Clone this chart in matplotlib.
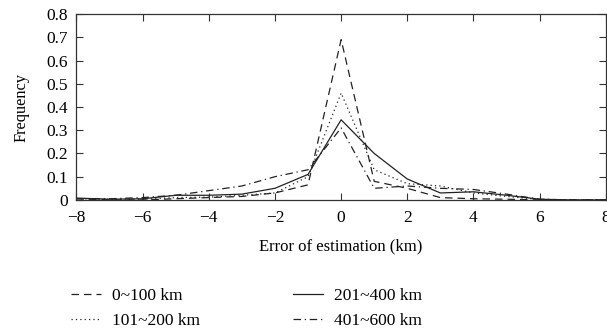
import matplotlib
matplotlib.use("Agg")
import matplotlib.pyplot as plt
import numpy as np

plt.rcParams['font.family'] = ['Liberation Serif', 'DejaVu Serif']
plt.rcParams['mathtext.fontset'] = 'stix'

x = list(range(-8, 9))
s_0_100 = [0.005, 0.0, 0.0, 0.005, 0.01, 0.015, 0.03, 0.065, 0.69, 0.08, 0.05, 0.01, 0.005, 0.003, 0.0, 0.0, 0.0]
s_101_200 = [0.005, 0.002, 0.003, 0.01, 0.012, 0.02, 0.03, 0.10, 0.46, 0.13, 0.07, 0.06, 0.03, 0.015, 0.002, 0.0, 0.0]
s_201_400 = [0.008, 0.003, 0.005, 0.02, 0.02, 0.025, 0.05, 0.11, 0.345, 0.20, 0.09, 0.03, 0.035, 0.02, 0.003, 0.0, 0.0]
s_401_600 = [0.005, 0.005, 0.01, 0.02, 0.04, 0.06, 0.10, 0.13, 0.31, 0.05, 0.06, 0.05, 0.045, 0.025, 0.003, 0.0, 0.0]
labels = ["0~100 km", "101~200 km", "201~400 km", "401~600 km"]
x_ticks = list(range(-8, 9, 2))
y_ticks = [0, 0.1, 0.2, 0.3, 0.4, 0.5, 0.6, 0.7, 0.8]
y_tick_labels = ["0", "0.1", "0.2", "0.3", "0.4", "0.5", "0.6", "0.7", "0.8"]

fig = plt.figure(figsize=(6.07, 3.36), dpi=100)
ax = fig.add_axes([0.126, 0.405, 0.872, 0.553])

lw = 0.9
c = '#222222'
ax.plot(x, s_0_100, linestyle=(0, (6, 4)), color=c, lw=lw, label=labels[0])
ax.plot(x, s_101_200, linestyle=(0, (1, 2.5)), color=c, lw=lw, label=labels[1])
ax.plot(x, s_201_400, linestyle='-', color=c, lw=lw, label=labels[2])
ax.plot(x, s_401_600, linestyle=(0, (6, 3, 1, 3)), color=c, lw=lw, label=labels[3])

ax.set_xlim(-8, 8)
ax.set_ylim(0, 0.8)
ax.set_xticks(x_ticks)
ax.set_xticklabels([("\u2212" + str(-t)) if t < 0 else str(t) for t in x_ticks])
ax.set_yticks(y_ticks)
ax.set_yticklabels(y_tick_labels)
ax.tick_params(direction='in', top=True, right=True, labelsize=12.5, length=5, width=0.8,
               colors='#333333', labelcolor='black')
ax.tick_params(axis='x', pad=7)
ax.tick_params(axis='y', pad=6)
for sp in ax.spines.values():
    sp.set_linewidth(0.9)
    sp.set_color('#333333')
ax.set_xlabel("Error of estimation (km)", fontsize=12, labelpad=9)
ax.set_ylabel("Frequency", fontsize=11.8, labelpad=12)

fig.legend(loc='center', bbox_to_anchor=(0.406, 0.082), ncol=2, frameon=False,
           fontsize=12.5, handlelength=1.7, handletextpad=0.63, columnspacing=5.4,
           labelspacing=0.5)

fig.savefig("out.png", dpi=100)
